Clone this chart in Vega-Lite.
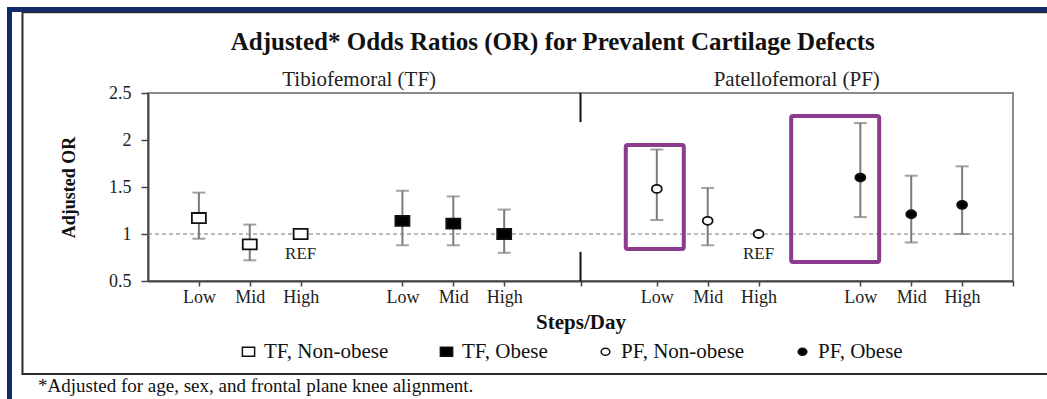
{
  "$schema": "https://vega.github.io/schema/vega-lite/v6.json",
  "width": 865,
  "height": 188,
  "autosize": {"type": "none"},
  "padding": {"left": 148, "top": 93, "right": 34, "bottom": 118},
  "background": "white",
  "config": {
    "font": "Liberation Serif",
    "view": {"stroke": "#666666", "strokeWidth": 1.5},
    "axis": {"grid": false, "domainColor": "#444444", "domainWidth": 2, "tickColor": "#444444", "tickWidth": 1.5, "labelColor": "#222222", "titleColor": "#111111", "labelFont": "Liberation Serif", "titleFont": "Liberation Serif"},
    "legend": {"labelFont": "Liberation Serif"}
  },
  "datasets": {
    "or": [
      {"group": "TF, Non-obese", "level": "Low", "slot": 1, "or": 1.17, "lo": 0.95, "hi": 1.44, "label": ""},
      {"group": "TF, Non-obese", "level": "Mid", "slot": 2, "or": 0.89, "lo": 0.72, "hi": 1.10, "label": ""},
      {"group": "TF, Non-obese", "level": "High", "slot": 3, "or": 1.0, "lo": null, "hi": null, "label": "REF"},
      {"group": "TF, Obese", "level": "Low", "slot": 5, "or": 1.14, "lo": 0.88, "hi": 1.46, "label": ""},
      {"group": "TF, Obese", "level": "Mid", "slot": 6, "or": 1.11, "lo": 0.88, "hi": 1.40, "label": ""},
      {"group": "TF, Obese", "level": "High", "slot": 7, "or": 1.0, "lo": 0.80, "hi": 1.26, "label": ""},
      {"group": "PF, Non-obese", "level": "Low", "slot": 10, "or": 1.48, "lo": 1.15, "hi": 1.90, "label": ""},
      {"group": "PF, Non-obese", "level": "Mid", "slot": 11, "or": 1.14, "lo": 0.88, "hi": 1.49, "label": ""},
      {"group": "PF, Non-obese", "level": "High", "slot": 12, "or": 1.0, "lo": null, "hi": null, "label": "REF"},
      {"group": "PF, Obese", "level": "Low", "slot": 14, "or": 1.60, "lo": 1.18, "hi": 2.18, "label": ""},
      {"group": "PF, Obese", "level": "Mid", "slot": 15, "or": 1.21, "lo": 0.91, "hi": 1.62, "label": ""},
      {"group": "PF, Obese", "level": "High", "slot": 16, "or": 1.31, "lo": 1.00, "hi": 1.72, "label": ""}
    ],
    "panels": [
      {"panel": "Tibiofemoral (TF)", "center": 4.15},
      {"panel": "Patellofemoral (PF)", "center": 12.75}
    ],
    "highlights": [
      {"x1": 9.39, "x2": 10.53, "y1": 0.84, "y2": 1.947},
      {"x1": 12.64, "x2": 14.37, "y1": 0.702, "y2": 2.255}
    ],
    "divider": [
      {"from": 0.5, "to": 0.81},
      {"from": 2.19, "to": 2.5}
    ]
  },
  "layer": [
    {
      "data": {"values": [{}]},
      "mark": {"type": "rect", "filled": false, "stroke": "#2b2b2b", "strokeWidth": 2},
      "encoding": {
        "x": {"datum": -2.467, "type": "quantitative", "title": "Steps/Day", "scale": {"domain": [0, 17], "nice": false, "zero": false}},
        "x2": {"datum": 20},
        "y": {"datum": 3.36, "type": "quantitative", "title": "Adjusted OR", "scale": {"domain": [0.5, 2.5], "nice": false, "zero": false}},
        "y2": {"datum": -0.489}
      }
    },
    {
      "data": {"values": [{}]},
      "mark": {"type": "rect", "filled": false, "stroke": "#12296b", "strokeWidth": 5},
      "encoding": {
        "x": {"datum": -2.722, "type": "quantitative", "title": "Steps/Day", "scale": {"domain": [0, 17], "nice": false, "zero": false}},
        "x2": {"datum": 20},
        "y": {"datum": 3.388, "type": "quantitative", "title": "Adjusted OR", "scale": {"domain": [0.5, 2.5], "nice": false, "zero": false}},
        "y2": {"datum": -2}
      }
    },
    {
      "data": {"values": [{}]},
      "mark": {"type": "rule", "strokeDash": [4, 3], "color": "#777777", "strokeWidth": 1},
      "encoding": {
        "y": {"datum": 1, "type": "quantitative", "title": "Adjusted OR", "scale": {"domain": [0.5, 2.5], "nice": false, "zero": false}}
      }
    },
    {
      "data": {"name": "divider"},
      "mark": {"type": "rule", "color": "#111111", "strokeWidth": 2},
      "encoding": {
        "x": {"datum": 8.5, "type": "quantitative", "title": "Steps/Day", "scale": {"domain": [0, 17], "nice": false, "zero": false}},
        "y": {"field": "from", "type": "quantitative", "title": "Adjusted OR", "scale": {"domain": [0.5, 2.5], "nice": false, "zero": false}},
        "y2": {"field": "to"}
      }
    },
    {
      "data": {"name": "or"},
      "transform": [{"filter": "datum.lo != null"}],
      "mark": {"type": "errorbar", "color": "#7a7a7a", "ticks": {"size": 13, "thickness": 2, "color": "#7a7a7a"}, "rule": {"strokeWidth": 2, "color": "#7a7a7a"}},
      "encoding": {
        "x": {"field": "slot", "type": "quantitative", "title": "Steps/Day", "scale": {"domain": [0, 17], "nice": false, "zero": false}},
        "y": {"field": "lo", "type": "quantitative", "title": "Adjusted OR", "scale": {"domain": [0.5, 2.5], "nice": false, "zero": false}},
        "y2": {"field": "hi"}
      }
    },
    {
      "data": {"name": "or"},
      "mark": {"type": "point", "filled": true, "opacity": 1, "stroke": "#111111", "strokeWidth": 1.8, "size": 196},
      "encoding": {
        "x": {
          "field": "slot", "type": "quantitative", "title": "Steps/Day",
          "scale": {"domain": [0, 17], "nice": false, "zero": false},
          "axis": {
            "values": [1, 2, 3, 5, 6, 7, 8.5, 10, 11, 12, 14, 15, 16, 17],
            "labelExpr": "indexof([1,5,10,14], datum.value) >= 0 ? 'Low' : indexof([2,6,11,15], datum.value) >= 0 ? 'Mid' : indexof([3,7,12,16], datum.value) >= 0 ? 'High' : ''",
            "tickSize": 5, "labelPadding": 2, "labelFontSize": 18, "labelOverlap": false, "labelFlush": false,
            "titleFontSize": 21, "titleFontWeight": "bold", "titlePadding": 5
          }
        },
        "y": {
          "field": "or", "type": "quantitative", "title": "Adjusted OR",
          "scale": {"domain": [0.5, 2.5], "nice": false, "zero": false},
          "axis": {
            "values": [0.5, 1, 1.5, 2, 2.5], "format": "~g",
            "tickSize": 7, "labelPadding": 10, "labelFontSize": 18,
            "titleFontSize": 18, "titleFontWeight": "bold", "titlePadding": 30
          }
        },
        "shape": {
          "field": "group", "type": "nominal",
          "scale": {"domain": ["TF, Non-obese", "TF, Obese", "PF, Non-obese", "PF, Obese"], "range": ["M-1,-0.72H1V0.72H-1Z", "M-1,-0.72H1V0.72H-1Z", "M-0.71,0A0.71,0.57 0 1,0 0.71,0A0.71,0.57 0 1,0 -0.71,0Z", "M-0.71,0A0.71,0.57 0 1,0 0.71,0A0.71,0.57 0 1,0 -0.71,0Z"]},
          "legend": {"title": null, "orient": "none", "legendX": 90, "legendY": 248, "direction": "horizontal", "columnPadding": 47, "labelFontSize": 21, "labelColor": "#111111", "symbolSize": 150, "labelOffset": 5, "encode": {"symbols": {"update": {"stroke": {"value": "#111111"}, "strokeWidth": {"value": 1.5}}}}}
        },
        "fill": {
          "field": "group", "type": "nominal",
          "scale": {"domain": ["TF, Non-obese", "TF, Obese", "PF, Non-obese", "PF, Obese"], "range": ["#ffffff", "#000000", "#ffffff", "#000000"]},
          "legend": {"title": null, "orient": "none", "legendX": 90, "legendY": 248, "direction": "horizontal", "columnPadding": 47, "labelFontSize": 21, "labelColor": "#111111", "symbolSize": 150, "labelOffset": 5, "encode": {"symbols": {"update": {"stroke": {"value": "#111111"}, "strokeWidth": {"value": 1.5}}}}}
        }
      }
    },
    {
      "data": {"name": "or"},
      "transform": [{"filter": "datum.label == 'REF'"}],
      "mark": {"type": "text", "dy": 20, "fontSize": 17, "color": "#222222", "baseline": "middle"},
      "encoding": {
        "x": {"field": "slot", "type": "quantitative", "title": "Steps/Day", "scale": {"domain": [0, 17], "nice": false, "zero": false}},
        "y": {"field": "or", "type": "quantitative", "title": "Adjusted OR", "scale": {"domain": [0.5, 2.5], "nice": false, "zero": false}},
        "text": {"field": "label"}
      }
    },
    {
      "data": {"name": "panels"},
      "mark": {"type": "text", "dy": -13, "fontSize": 21, "color": "#222222", "baseline": "middle"},
      "encoding": {
        "x": {"field": "center", "type": "quantitative", "title": "Steps/Day", "scale": {"domain": [0, 17], "nice": false, "zero": false}},
        "y": {"datum": 2.5, "type": "quantitative", "title": "Adjusted OR", "scale": {"domain": [0.5, 2.5], "nice": false, "zero": false}},
        "text": {"field": "panel"}
      }
    },
    {
      "data": {"name": "highlights"},
      "mark": {"type": "rect", "filled": false, "stroke": "#8b3c8f", "strokeWidth": 4, "cornerRadius": 2},
      "encoding": {
        "x": {"field": "x1", "type": "quantitative", "title": "Steps/Day", "scale": {"domain": [0, 17], "nice": false, "zero": false}},
        "x2": {"field": "x2"},
        "y": {"field": "y1", "type": "quantitative", "title": "Adjusted OR", "scale": {"domain": [0.5, 2.5], "nice": false, "zero": false}},
        "y2": {"field": "y2"}
      }
    },
    {
      "data": {"values": [{"title": "Adjusted* Odds Ratios (OR) for Prevalent Cartilage Defects"}]},
      "mark": {"type": "text", "fontSize": 25, "fontWeight": "bold", "color": "#111111", "baseline": "alphabetic", "align": "center"},
      "encoding": {
        "x": {"datum": 7.955, "type": "quantitative", "title": "Steps/Day", "scale": {"domain": [0, 17], "nice": false, "zero": false}},
        "y": {"datum": 2.957, "type": "quantitative", "title": "Adjusted OR", "scale": {"domain": [0.5, 2.5], "nice": false, "zero": false}},
        "text": {"field": "title"}
      }
    },
    {
      "data": {"values": [{"note": "*Adjusted for age, sex, and frontal plane knee alignment."}]},
      "mark": {"type": "text", "fontSize": 19, "color": "#111111", "baseline": "middle", "align": "left"},
      "encoding": {
        "x": {"datum": -2.16, "type": "quantitative", "title": "Steps/Day", "scale": {"domain": [0, 17], "nice": false, "zero": false}},
        "y": {"datum": -0.62, "type": "quantitative", "title": "Adjusted OR", "scale": {"domain": [0.5, 2.5], "nice": false, "zero": false}},
        "text": {"field": "note"}
      }
    }
  ]
}
